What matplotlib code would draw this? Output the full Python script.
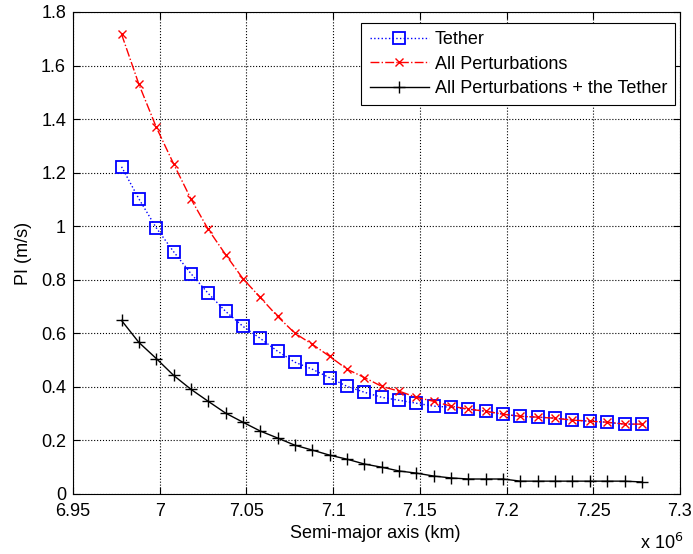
import matplotlib
matplotlib.use("Agg")
import matplotlib.pyplot as plt
from matplotlib.ticker import FuncFormatter, MultipleLocator
import numpy as np

plt.rcParams['font.family'] = ['Liberation Sans', 'DejaVu Sans']

# Semi-major axis (m)
semi_major = [6.978e6 + k * 1e4 for k in range(31)]

tether = [1.222, 1.102, 0.994, 0.905, 0.823, 0.749, 0.682, 0.626, 0.581, 0.533,
          0.492, 0.466, 0.434, 0.402, 0.380, 0.361, 0.350, 0.339, 0.328, 0.324,
          0.317, 0.309, 0.298, 0.290, 0.287, 0.283, 0.276, 0.272, 0.268, 0.261,
          0.261]
all_pert = [1.717, 1.530, 1.370, 1.233, 1.102, 0.988, 0.894, 0.804, 0.734, 0.663,
            0.600, 0.559, 0.514, 0.466, 0.435, 0.402, 0.384, 0.361, 0.346, 0.328,
            0.317, 0.309, 0.298, 0.290, 0.287, 0.283, 0.276, 0.272, 0.268, 0.261,
            0.261]
all_pert_tether = [0.648, 0.566, 0.506, 0.443, 0.391, 0.346, 0.302, 0.268, 0.235, 0.209,
                   0.182, 0.164, 0.145, 0.130, 0.112, 0.100, 0.086, 0.078, 0.067, 0.060,
                   0.056, 0.056, 0.056, 0.048, 0.048, 0.048, 0.048, 0.048, 0.048, 0.048,
                   0.045]

labels = ["Tether", "All Perturbations", "All Perturbations + the Tether"]

FS = 13

fig = plt.figure(figsize=(6.93, 5.54), dpi=100)
ax = fig.add_axes([73/693, 60/554, 607/693, 482/554])

ax.plot(semi_major, tether, color='#0000ff', linestyle=':', linewidth=1.0,
        marker='s', markersize=9, markerfacecolor='none', markeredgewidth=1.3,
        label=labels[0])
ax.plot(semi_major, all_pert, color='#ff0000', linestyle='-.', linewidth=1.0,
        marker='x', markersize=6, markeredgewidth=1.0, label=labels[1])
ax.plot(semi_major, all_pert_tether, color='black', linestyle='-', linewidth=1.0,
        marker='+', markersize=9, markeredgewidth=1.0, label=labels[2])

ax.set_xlim(6.95e6, 7.3e6)
ax.set_ylim(0, 1.8)
ax.xaxis.set_major_locator(MultipleLocator(0.05e6))
ax.yaxis.set_major_locator(MultipleLocator(0.2))
ax.xaxis.set_major_formatter(FuncFormatter(lambda v, p: f"{v/1e6:g}"))
ax.yaxis.set_major_formatter(FuncFormatter(lambda v, p: f"{v:g}"))
ax.tick_params(direction='in', top=True, right=True, labelsize=FS, length=5, width=0.8)
ax.tick_params(axis='x', pad=6.5)
ax.tick_params(axis='y', pad=5)
ax.grid(True, linestyle=':', color='black', linewidth=0.8)
for s in ax.spines.values():
    s.set_linewidth(0.8)

ax.set_xlabel("Semi-major axis (km)", fontsize=FS)
ax.set_ylabel("PI (m/s)", fontsize=FS)
ax.xaxis.set_label_coords((375 - 73) / 607, (494 - 525) / 482)
ax.yaxis.set_label_coords((32 - 73) / 607, 0.5)
fig.text(640/693, 1 - 549/554, r"x 10$^{6}$", fontsize=FS, ha='left', va='baseline')

leg = ax.legend(loc='upper right', fontsize=FS, fancybox=False, edgecolor='black',
                framealpha=1, bbox_to_anchor=(675/693, 1 - 23/554),
                bbox_transform=fig.transFigure, borderaxespad=0,
                handlelength=3.3, handletextpad=0.3, labelspacing=0.42,
                borderpad=0.45)
leg.get_frame().set_linewidth(0.8)

fig.savefig("out.png", dpi=100)
